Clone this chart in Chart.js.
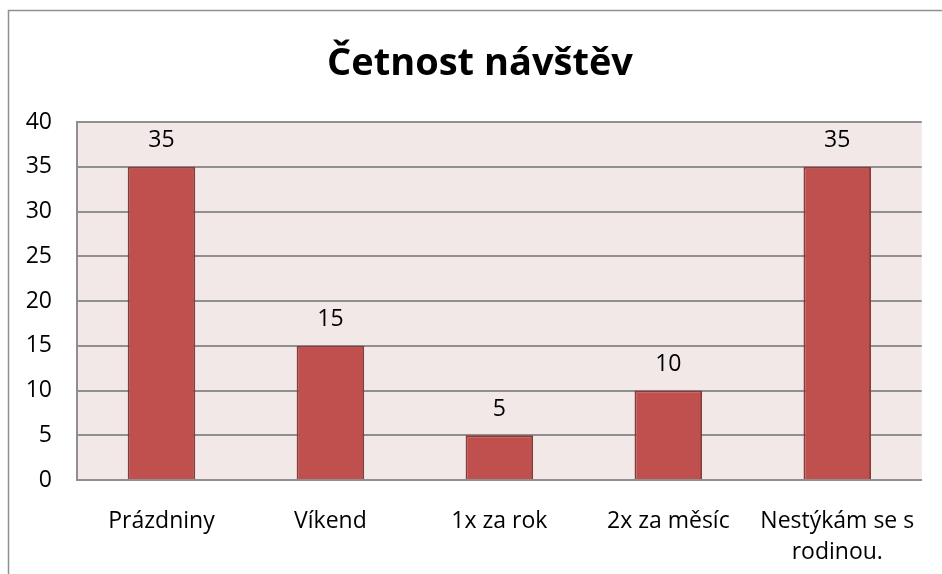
<!DOCTYPE html>
<html>
<head>
<meta charset="utf-8">
<script src="https://cdn.jsdelivr.net/npm/chart.js@4/dist/chart.umd.min.js"></script>
<style>
    html, body { margin: 0; padding: 0; background: #fff; }
    #wrap { width: 942px; height: 574px; }
</style>
</head>
<body>
<div id="wrap"><canvas class="js-chart" width="942" height="574"></canvas></div>
<script>
const ctx = document.querySelector('.js-chart').getContext('2d');
const FONT = '"Open Sans", sans-serif';

const chartTitle = 'Četnost návštěv';
const categories = ['Prázdniny', 'Víkend', '1x za rok', '2x za měsíc', ['Nestýkám se s', 'rodinou.']];
const visits = [35, 15, 5, 10, 35];
const yTicks = [0, 5, 10, 15, 20, 25, 30, 35, 40];

// plot background, outer frame and title
const backdrop = {
    id: 'backdrop',
    beforeDraw(chart) {
        const c = chart.ctx;
        const a = chart.chartArea;
        c.save();
        c.fillStyle = '#f2e8e8';
        c.fillRect(a.left, a.top, a.right - a.left, a.bottom - a.top);
        c.strokeStyle = '#8f8f8f';
        c.lineWidth = 1.5;
        c.strokeRect(8.5, 10.5, 1000, 1000);

        c.fillStyle = '#000';
        c.font = 'bold 38px ' + FONT;
        c.textAlign = 'center';
        c.textBaseline = 'alphabetic';
        c.fillText(chartTitle, 480, 75);
        c.restore();
    },
};

// values above the bars
const valueLabels = {
    id: 'valueLabels',
    afterDatasetsDraw(chart) {
        const c = chart.ctx;
        c.save();
        c.font = '23px ' + FONT;
        c.fillStyle = '#000';
        c.textAlign = 'center';
        c.textBaseline = 'middle';
        chart.getDatasetMeta(0).data.forEach((bar, i) => {
            c.fillText(String(visits[i]), bar.x, bar.y - 26);
        });
        c.restore();
    },
};

new Chart(ctx, {
    type: 'bar',
    data: {
        labels: categories,
        datasets: [
            {
                data: visits,
                backgroundColor: '#c0504d',
                borderColor: '#8c3a38',
                borderWidth: 2,
                borderSkipped: 'bottom',
                barPercentage: 0.4,
                categoryPercentage: 1,
            },
        ],
    },
    options: {
        responsive: false,
        animation: false,
        layout: { padding: { left: 0, right: 18, top: 122, bottom: 0 } },
        plugins: {
            legend: { display: false },
            tooltip: { enabled: false },
            title: { display: false },
        },
        scales: {
            x: {
                grid: { display: false, drawTicks: false },
                border: { display: true, color: '#8f8f8f', width: 2 },
                ticks: {
                    color: '#000',
                    font: { family: FONT, size: 23, lineHeight: 1.35 },
                    padding: 26,
                    maxRotation: 0,
                    autoSkip: false,
                },
                afterFit(scale) {
                    scale.height = 94;
                },
            },
            y: {
                min: 0,
                max: 40,
                afterBuildTicks(scale) {
                    scale.ticks = yTicks.map(value => ({ value }));
                },
                grid: { color: '#8f8f8f', lineWidth: 2, drawTicks: false },
                border: { display: true, color: '#8f8f8f', width: 2 },
                ticks: {
                    color: '#000',
                    font: { family: FONT, size: 23 },
                    padding: 25,
                },
                afterFit(scale) {
                    scale.width = 77;
                },
            },
        },
    },
    plugins: [backdrop, valueLabels],
});
</script>
</body>
</html>
